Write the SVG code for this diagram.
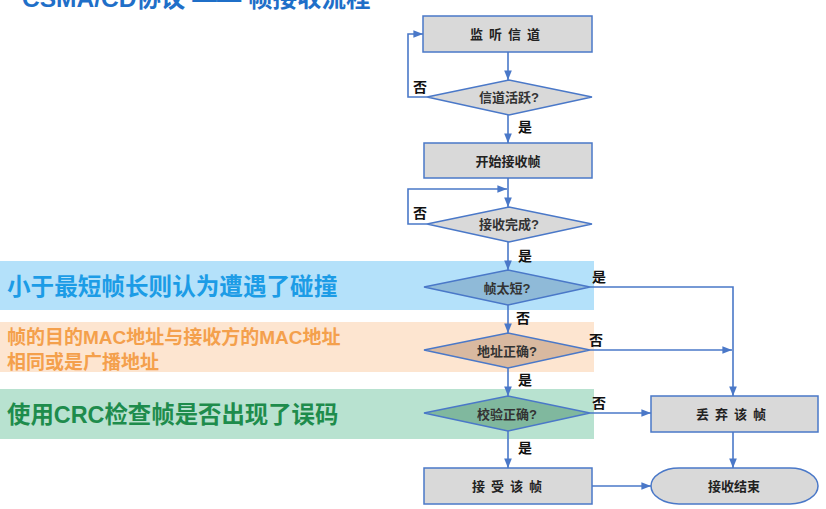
<svg xmlns="http://www.w3.org/2000/svg" width="826" height="509" viewBox="0 0 826 509">
  <style>
    .box { fill: #D9D9D9; stroke: #4A78C8; stroke-width: 1.5; }
    .dia { stroke: #4A78C8; stroke-width: 1.5; }
    .ln { fill: none; stroke: #4A78C8; stroke-width: 1.6; }
    .t { font-family: "Liberation Sans", "Noto Sans CJK SC", sans-serif; text-anchor: middle; dominant-baseline: central; }
    .bt { font-size: 13px; font-weight: bold; fill: #222; }
    .dt { font-size: 13px; font-weight: bold; fill: #333; }
    .lab { font-size: 14px; font-weight: bold; fill: #111; }
    .note { font-family: "Liberation Sans", "Noto Sans CJK SC", sans-serif; font-weight: bold; dominant-baseline: central; }
  </style>
  <defs>
    <marker id="arr" viewBox="0 0 10 10" refX="10" refY="5" markerWidth="6" markerHeight="6" orient="auto">
      <path d="M0,1 L10,5 L0,9 z" fill="#4A78C8"/>
    </marker>
  </defs>
  <rect width="826" height="509" fill="#FFFFFF"/>

  <!-- heading, partly above the top edge -->
  <text x="22" y="7" font-family="Liberation Sans, Noto Sans CJK SC, sans-serif" font-size="24.5" font-weight="bold" fill="#1F6FC8">CSMA/CD协议 —— 帧接收流程</text>

  <!-- highlight bands with notes -->
  <g id="band-collision">
    <rect x="0" y="261" width="594" height="49" fill="#B4E1FA"/>
    <text class="note" x="7" y="287" font-size="23.6" fill="#1C9CE6">小于最短帧长则认为遭遇了碰撞</text>
  </g>
  <g id="band-address">
    <rect x="0" y="322" width="594" height="50" fill="#FDE5D0"/>
    <text class="note" x="7" y="337" font-size="19" fill="#F4A04C">帧的目的MAC地址与接收方的MAC地址</text>
    <text class="note" x="7" y="362" font-size="19" fill="#F4A04C">相同或是广播地址</text>
  </g>
  <g id="band-crc">
    <rect x="0" y="389" width="594" height="50" fill="#B8E2D0"/>
    <text class="note" x="7" y="415" font-size="23.4" fill="#1E8C4C">使用CRC检查帧是否出现了误码</text>
  </g>

  <!-- connectors -->
  <g id="connectors">
    <path class="ln" d="M508,52 V80" marker-end="url(#arr)"/>
    <path class="ln" d="M427,97 H408 V34 H423" marker-end="url(#arr)"/>
    <path class="ln" d="M508,115 V143" marker-end="url(#arr)"/>
    <path class="ln" d="M508,178 V207" marker-end="url(#arr)"/>
    <path class="ln" d="M427,224 H408 V189 H507" marker-end="url(#arr)"/>
    <path class="ln" d="M508,242 V270" marker-end="url(#arr)"/>
    <path class="ln" d="M508,305 V333" marker-end="url(#arr)"/>
    <path class="ln" d="M508,368 V396" marker-end="url(#arr)"/>
    <path class="ln" d="M508,431 V468" marker-end="url(#arr)"/>
    <path class="ln" d="M590,287 H733 V396" marker-end="url(#arr)"/>
    <path class="ln" d="M590,350 H732" marker-end="url(#arr)"/>
    <path class="ln" d="M590,413 H651" marker-end="url(#arr)"/>
    <path class="ln" d="M733,432 V468" marker-end="url(#arr)"/>
    <path class="ln" d="M592,486 H651" marker-end="url(#arr)"/>
    <text class="t lab" x="420" y="87">否</text>
    <text class="t lab" x="525" y="127">是</text>
    <text class="t lab" x="420" y="213">否</text>
    <text class="t lab" x="525" y="256">是</text>
    <text class="t lab" x="599" y="277">是</text>
    <text class="t lab" x="523" y="318">否</text>
    <text class="t lab" x="596" y="340">否</text>
    <text class="t lab" x="525" y="380">是</text>
    <text class="t lab" x="599" y="403">否</text>
    <text class="t lab" x="525" y="448">是</text>
  </g>

  <!-- nodes -->
  <g id="listen">
    <rect class="box" x="423" y="16" width="169" height="36"/>
    <text class="t bt" x="508" y="34" letter-spacing="6">监听信道</text>
  </g>
  <g id="busy">
    <polygon class="dia" fill="#D9D9D9" points="427,97 509,80 592,97 509,115"/>
    <text class="t dt" x="509" y="97">信道活跃?</text>
  </g>
  <g id="start">
    <rect class="box" x="424" y="143" width="168" height="35"/>
    <text class="t bt" x="508" y="161">开始接收帧</text>
  </g>
  <g id="done">
    <polygon class="dia" fill="#D9D9D9" points="427,224 509,207 592,224 509,242"/>
    <text class="t dt" x="509" y="224">接收完成?</text>
  </g>
  <g id="short">
    <polygon class="dia" fill="#8FBAD8" points="424,287 508,270 590,287 508,305"/>
    <text class="t dt" x="507" y="288">帧太短?</text>
  </g>
  <g id="addr">
    <polygon class="dia" fill="#D9B9A0" points="424,350 508,333 590,350 508,368"/>
    <text class="t dt" x="507" y="351">地址正确?</text>
  </g>
  <g id="crc">
    <polygon class="dia" fill="#80B89E" points="424,413 508,396 590,413 508,431"/>
    <text class="t dt" x="507" y="414">校验正确?</text>
  </g>
  <g id="discard">
    <rect class="box" x="651" y="396" width="167" height="36"/>
    <text class="t bt" x="734" y="414" letter-spacing="6">丢弃该帧</text>
  </g>
  <g id="accept">
    <rect class="box" x="424" y="468" width="168" height="36"/>
    <text class="t bt" x="510" y="486" letter-spacing="6">接受该帧</text>
  </g>
  <g id="end">
    <rect class="box" x="651" y="468" width="167" height="36" rx="28" ry="18"/>
    <text class="t bt" x="734" y="486">接收结束</text>
  </g>
</svg>
